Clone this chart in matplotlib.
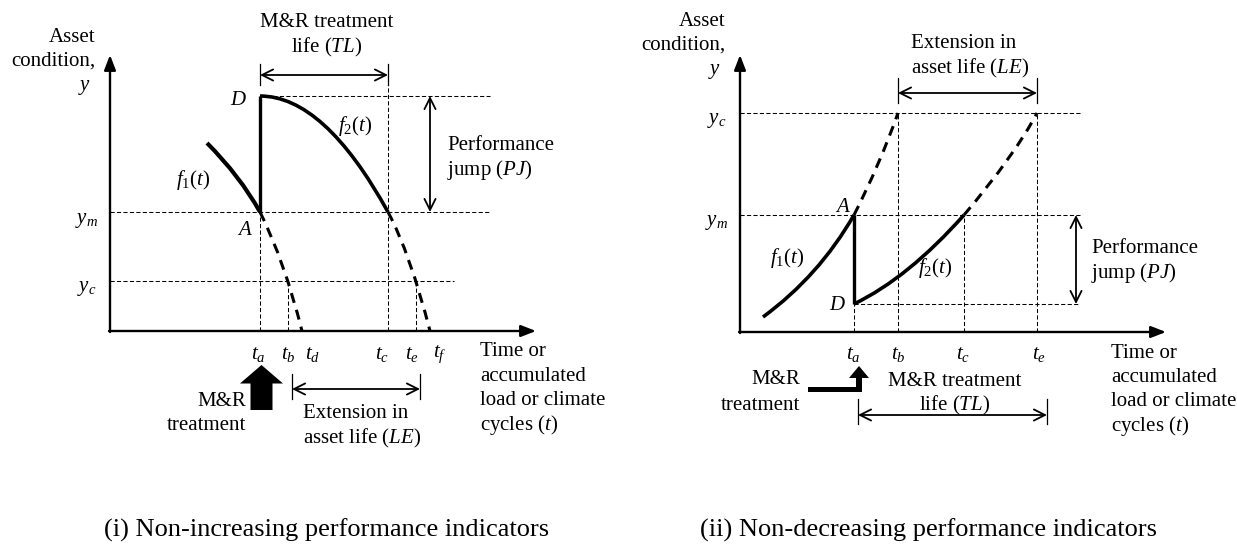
import matplotlib.pyplot as plt
from matplotlib.path import Path
from matplotlib.patches import PathPatch, FancyArrow, Polygon

plt.rcParams['font.family'] = ['Liberation Serif', 'DejaVu Serif']
plt.rcParams['mathtext.fontset'] = 'custom'
plt.rcParams['mathtext.rm'] = 'Liberation Serif'
plt.rcParams['mathtext.it'] = 'Liberation Serif:italic'

FS = 15
CAP_FS = 19

# ---- (i) non-increasing indicator ----
dec_tick_names = ['a', 'b', 'd', 'c', 'e', 'f']
dec_tick_vals = [15.0, 17.8, 19.2, 27.8, 30.6, 32.0]
dec_tick_lbl_x = [14.8, 17.8, 20.3, 27.2, 30.2, 33.0]
dec_yD, dec_ym, dec_yc = 23.5, 11.9, 5.0
# quadratic bezier curves: start, control, end
dec_f1 = [(9.7, 18.8), (13.0, 15.5), (15.0, 11.9)]
dec_f1_ext = [(15.0, 11.9), (17.45, 7.0), (19.2, 0.0)]
dec_f2 = [(15.0, 23.5), (21.4, 23.5), (27.8, 11.9)]
dec_f2_ext = [(27.8, 11.9), (30.0, 7.8), (32.0, 0.0)]

# ---- (ii) non-decreasing indicator ----
inc_tick_names = ['a', 'b', 'c', 'e']
inc_tick_vals = [11.4, 15.8, 22.4, 29.7]
inc_tick_lbl_x = [11.3, 15.8, 22.3, 29.9]
inc_yD, inc_ym, inc_yc = 2.8, 11.7, 21.9
inc_f1 = [(2.3, 1.5), (7.9, 5.6), (11.4, 11.7)]
inc_f1_ext = [(11.4, 11.7), (14.0, 16.8), (15.8, 21.9)]
inc_f2 = [(11.4, 2.8), (16.8, 5.4), (22.4, 11.7)]
inc_f2_ext = [(22.4, 11.7), (27.5, 17.7), (29.7, 21.9)]

W, H = 1237, 544
fig = plt.figure(figsize=(W / 100, H / 100), dpi=100)


def panel(ox, oy):
    # 1 unit = 10 px, origin at the corner of the drawn axes
    ax = fig.add_axes([0, 0, 1, 1])
    ax.set_xlim(-ox / 10, (W - ox) / 10)
    ax.set_ylim((oy - H) / 10, oy / 10)
    ax.axis('off')
    ax.patch.set_alpha(0)
    return ax


def curve(ax, pts, lw, dashed=False):
    path = Path(pts, [Path.MOVETO, Path.CURVE3, Path.CURVE3])
    ls = (0, (3.3, 2.4)) if dashed else '-'
    ax.add_patch(PathPatch(path, fill=False, lw=lw, ls=ls, color='k',
                           capstyle='butt'))


def guide(ax, xs, ys):
    ax.plot(xs, ys, color='k', lw=0.75, ls=(0, (4, 2.2)))


def dim_arrow(ax, p0, p1, ticks=None):
    ax.annotate('', xy=p1, xytext=p0,
                arrowprops=dict(arrowstyle='<->,head_length=0.8,head_width=0.4',
                                lw=1.3, color='k', shrinkA=0, shrinkB=0))
    if ticks is not None:
        lo, hi = ticks
        for x in (p0[0], p1[0]):
            ax.plot([x, x], [lo, hi], color='k', lw=0.9)


def axes_lines(ax, xmax, ymax):
    kw = dict(arrowstyle='-|>,head_length=0.9,head_width=0.35', lw=1.7,
              color='k', shrinkA=0, shrinkB=0)
    ax.annotate('', xy=(xmax, 0), xytext=(-0.1, 0), arrowprops=kw)
    ax.annotate('', xy=(0, ymax), xytext=(0, -0.1), arrowprops=kw)


def axis_titles(ax, ytop, xleft):
    ax.text(-1.5, ytop, 'Asset', fontsize=FS, ha='right', va='center')
    ax.text(-1.5, ytop - 2.45, 'condition,', fontsize=FS, ha='right', va='center')
    ax.text(-1.9, ytop - 5.0, '$y$', fontsize=FS, ha='right', va='center')
    for i, s in enumerate(['Time or', 'accumulated', 'load or climate',
                           'cycles ($t$)']):
        ax.text(xleft, -2.1 - 2.42 * i, s, fontsize=FS, ha='left', va='center')


# ================= panel (i) =================
ax = panel(110, 331)
axes_lines(ax, 42.6, 27.6)
axis_titles(ax, 29.4, 37.0)

guide(ax, [0, 38.0], [dec_ym, dec_ym])
guide(ax, [dec_tick_vals[0], 38.0], [dec_yD, dec_yD])
guide(ax, [0, 34.4], [dec_yc, dec_yc])
guide(ax, [dec_tick_vals[0]] * 2, [0, dec_ym])
guide(ax, [dec_tick_vals[1]] * 2, [0, dec_yc])
guide(ax, [dec_tick_vals[3]] * 2, [0, 24.6])
guide(ax, [dec_tick_vals[4]] * 2, [0, dec_yc])

curve(ax, dec_f1, 3.0)
curve(ax, dec_f2, 2.6)
curve(ax, dec_f1_ext, 2.2, dashed=True)
curve(ax, dec_f2_ext, 2.2, dashed=True)
ax.plot([dec_tick_vals[0]] * 2, [dec_ym, dec_yD], color='k', lw=2.4,
        solid_capstyle='butt')

for nm, lx in zip(dec_tick_names, dec_tick_lbl_x):
    ax.text(lx, -2.3, '$t_%s$' % nm, fontsize=FS, ha='center', va='center')
ax.text(-2.4, dec_ym - 0.8, '$y_m$', fontsize=FS, ha='center', va='center')
ax.text(-2.3, dec_yc - 0.8, '$y_c$', fontsize=FS, ha='center', va='center')
ax.text(12.9, 23.1, '$D$', fontsize=FS, ha='center', va='center')
ax.text(13.5, 10.1, '$A$', fontsize=FS, ha='center', va='center')
ax.text(8.3, 15.1, '$f_1(t)$', fontsize=FS, ha='center', va='center')
ax.text(24.5, 20.5, '$f_2(t)$', fontsize=FS, ha='center', va='center')

# treatment life on top
dim_arrow(ax, (dec_tick_vals[0], 25.6), (dec_tick_vals[3], 25.6), ticks=(24.6, 26.7))
ax.text(21.7, 30.9, 'M&R treatment', fontsize=FS, ha='center', va='center')
ax.text(21.7, 28.4, 'life ($TL$)', fontsize=FS, ha='center', va='center')

# performance jump
dim_arrow(ax, (32.0, dec_ym), (32.0, dec_yD))
ax.text(33.7, 18.6, 'Performance', fontsize=FS, ha='left', va='center')
ax.text(33.7, 16.1, 'jump ($PJ$)', fontsize=FS, ha='left', va='center')

# extension in asset life below the axis
dim_arrow(ax, (18.2, -5.8), (31.0, -5.8), ticks=(-4.3, -6.8))
ax.text(19.3, -8.3, 'Extension in', fontsize=FS, ha='left', va='center')
ax.text(19.3, -10.7, 'asset life ($LE$)', fontsize=FS, ha='left', va='center')

# treatment block arrow
ax.add_patch(FancyArrow(15.15, -7.9, 0, 4.5, width=2.2, head_width=4.3,
                        head_length=1.85, length_includes_head=True,
                        color='k', lw=0))
ax.text(13.6, -7.1, 'M&R', fontsize=FS, ha='right', va='center')
ax.text(13.6, -9.5, 'treatment', fontsize=FS, ha='right', va='center')

ax.text(21.7, -19.9, '(i) Non-increasing performance indicators',
        fontsize=CAP_FS, ha='center', va='center')

# ================= panel (ii) =================
ax = panel(740, 332)
axes_lines(ax, 42.6, 27.7)
axis_titles(ax, 31.1, 37.1)

guide(ax, [0, 34.2], [inc_yc, inc_yc])
guide(ax, [0, 34.0], [inc_ym, inc_ym])
guide(ax, [inc_tick_vals[0], 34.0], [inc_yD, inc_yD])
guide(ax, [inc_tick_vals[0]] * 2, [0, inc_yD])
guide(ax, [inc_tick_vals[1]] * 2, [0, inc_yc])
guide(ax, [inc_tick_vals[2]] * 2, [0, inc_ym])
guide(ax, [inc_tick_vals[3]] * 2, [0, inc_yc])

curve(ax, inc_f1, 2.6)
curve(ax, inc_f2, 2.6)
curve(ax, inc_f1_ext, 2.2, dashed=True)
curve(ax, inc_f2_ext, 2.2, dashed=True)
ax.plot([inc_tick_vals[0]] * 2, [inc_yD, inc_ym], color='k', lw=2.4,
        solid_capstyle='butt')

for nm, lx in zip(inc_tick_names, inc_tick_lbl_x):
    ax.text(lx, -2.3, '$t_%s$' % nm, fontsize=FS, ha='center', va='center')
ax.text(-2.4, inc_ym - 0.7, '$y_m$', fontsize=FS, ha='center', va='center')
ax.text(-2.3, inc_yc - 0.7, '$y_c$', fontsize=FS, ha='center', va='center')
ax.text(9.7, 2.7, '$D$', fontsize=FS, ha='center', va='center')
ax.text(10.3, 12.5, '$A$', fontsize=FS, ha='center', va='center')
ax.text(4.7, 7.4, '$f_1(t)$', fontsize=FS, ha='center', va='center')
ax.text(19.5, 6.4, '$f_2(t)$', fontsize=FS, ha='center', va='center')

# extension in asset life on top
dim_arrow(ax, (inc_tick_vals[1], 23.9), (inc_tick_vals[3], 23.9), ticks=(22.9, 25.4))
ax.text(17.1, 28.9, 'Extension in', fontsize=FS, ha='left', va='center')
ax.text(17.1, 26.4, 'asset life ($LE$)', fontsize=FS, ha='left', va='center')

# performance jump
dim_arrow(ax, (33.6, inc_yD), (33.6, inc_ym))
ax.text(35.1, 8.4, 'Performance', fontsize=FS, ha='left', va='center')
ax.text(35.1, 5.9, 'jump ($PJ$)', fontsize=FS, ha='left', va='center')

# treatment life below the axis
dim_arrow(ax, (11.8, -8.3), (30.7, -8.3), ticks=(-6.7, -9.2))
ax.text(21.5, -5.0, 'M&R treatment', fontsize=FS, ha='center', va='center')
ax.text(21.5, -7.3, 'life ($TL$)', fontsize=FS, ha='center', va='center')

# bent treatment arrow
bent = [(6.8, -6.0), (12.2, -6.0), (12.2, -4.6), (12.9, -4.6), (11.9, -3.4),
        (10.9, -4.6), (11.6, -4.6), (11.6, -5.5), (6.8, -5.5)]
ax.add_patch(Polygon(bent, closed=True, color='k', lw=0))
ax.text(6.0, -4.8, 'M&R', fontsize=FS, ha='right', va='center')
ax.text(6.0, -7.3, 'treatment', fontsize=FS, ha='right', va='center')

ax.text(18.8, -19.8, '(ii) Non-decreasing performance indicators',
        fontsize=CAP_FS, ha='center', va='center')

fig.savefig('out.png', dpi=100, facecolor='white')
